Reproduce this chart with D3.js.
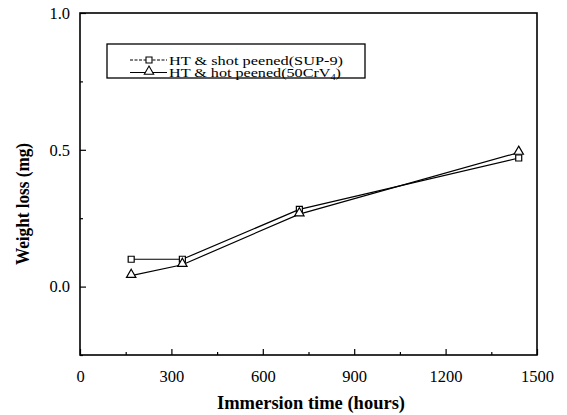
<!DOCTYPE html>
<html>
<head>
<meta charset="utf-8">
<script src="https://cdn.jsdelivr.net/npm/d3@7/dist/d3.min.js"></script>
<style>
  html, body { margin: 0; padding: 0; background: #fff; }
  svg { display: block; font-family: "Liberation Serif", "Times New Roman", serif; }
</style>
</head>
<body>
<svg id="chart" width="567" height="415"></svg>
<script>
// Immersion times (hours) and weight loss (mg) for both treatments
const hours = [168, 336, 720, 1440];
const shotPeened = [0.10, 0.10, 0.282, 0.47];
const hotPeened = [0.04, 0.08, 0.265, 0.49];
const xTicks = [0, 300, 600, 900, 1200, 1500];
const yTicks = [0.0, 0.5, 1.0];
const seriesNames = ["HT & shot peened(SUP-9)", "HT & hot peened(50CrV"];

const svg = d3.select("#chart");
const m = { left: 80, right: 537, top: 13, bottom: 355 };

const x = d3.scaleLinear().domain([0, 1500]).range([m.left, m.right]);
const y = d3.scaleLinear().domain([-0.25, 1.0]).range([m.bottom, m.top]);

// Frame
svg.append("rect")
  .attr("x", m.left).attr("y", m.top)
  .attr("width", m.right - m.left).attr("height", m.bottom - m.top)
  .attr("fill", "none").attr("stroke", "#000").attr("stroke-width", 1.6);

// Axes with inward major and minor ticks
svg.append("g").attr("transform", `translate(0,${m.bottom})`)
  .call(d3.axisBottom(x).tickValues(xTicks).tickSizeInner(-6).tickSizeOuter(0).tickPadding(15).tickFormat(d3.format("d")));
svg.append("g").attr("transform", `translate(0,${m.bottom})`)
  .call(d3.axisBottom(x).tickValues(d3.range(150, 1500, 300)).tickSizeInner(-3).tickSizeOuter(0).tickFormat(""));
svg.append("g").attr("transform", `translate(${m.left},0)`)
  .call(d3.axisLeft(y).tickValues(yTicks).tickSizeInner(-6).tickSizeOuter(0).tickPadding(10).tickFormat(d3.format(".1f")));
svg.append("g").attr("transform", `translate(${m.left},0)`)
  .call(d3.axisLeft(y).tickValues([-0.25, 0.25, 0.75]).tickSizeInner(-3).tickSizeOuter(0).tickFormat(""));

svg.selectAll(".domain").remove();
svg.selectAll(".tick line").attr("stroke", "#000").attr("stroke-width", 1.2);
svg.selectAll(".tick text").attr("font-size", 16.5).attr("fill", "#000")
  .attr("font-family", "Liberation Serif, serif");

// Axis titles
svg.append("text")
  .attr("x", 311).attr("y", 409)
  .attr("text-anchor", "middle").attr("font-size", 18).attr("font-weight", "bold")
  .attr("textLength", 188).attr("lengthAdjust", "spacingAndGlyphs")
  .text("Immersion time (hours)");
svg.append("text")
  .attr("transform", `translate(29,204) rotate(-90)`)
  .attr("text-anchor", "middle").attr("font-size", 18).attr("font-weight", "bold")
  .attr("textLength", 122).attr("lengthAdjust", "spacingAndGlyphs")
  .text("Weight loss (mg)");

// Data lines
const line = d3.line().x((d, i) => x(hours[i])).y(d => y(d));
[shotPeened, hotPeened].forEach(vals => {
  svg.append("path").datum(vals)
    .attr("d", line).attr("fill", "none").attr("stroke", "#000").attr("stroke-width", 1.2);
});

const sq = d3.symbol().type(d3.symbolSquare).size(36);
const tri = d3.symbol().type(d3.symbolTriangle).size(38);

svg.append("g").selectAll("path").data(shotPeened).join("path")
  .attr("d", sq).attr("transform", (d, i) => `translate(${x(hours[i])},${y(d)})`)
  .attr("fill", "#fff").attr("stroke", "#000").attr("stroke-width", 1.2);
svg.append("g").selectAll("path").data(hotPeened).join("path")
  .attr("d", tri).attr("transform", (d, i) => `translate(${x(hours[i])},${y(d) - 1})`)
  .attr("fill", "#fff").attr("stroke", "#000").attr("stroke-width", 1.2);

// Legend
const lg = svg.append("g");
lg.append("rect").attr("x", 107).attr("y", 44).attr("width", 258).attr("height", 34)
  .attr("fill", "#fff").attr("stroke", "#000").attr("stroke-width", 1.3);
const rows = [{ sym: sq, yy: 60, dash: "3,1.5" }, { sym: tri, yy: 72.5, dash: null }];
rows.forEach((r, i) => {
  lg.append("line").attr("x1", 130).attr("x2", 167).attr("y1", r.yy).attr("y2", r.yy)
    .attr("stroke", "#000").attr("stroke-width", 1.1).attr("stroke-dasharray", r.dash);
  lg.append("path").attr("d", r.sym).attr("transform", `translate(149,${r.yy - (i ? 1 : 0)})`)
    .attr("fill", "#fff").attr("stroke", "#000").attr("stroke-width", 1.1);
});
lg.append("text").attr("x", 169).attr("y", 64.5).attr("font-size", 12.5)
  .attr("textLength", 174).attr("lengthAdjust", "spacingAndGlyphs").text(seriesNames[0]);
const t2 = lg.append("text").attr("x", 169).attr("y", 77).attr("font-size", 12.5)
  .attr("textLength", 172).attr("lengthAdjust", "spacingAndGlyphs").text(seriesNames[1]);
t2.append("tspan").attr("font-size", 8).attr("dy", 3).text("4");
t2.append("tspan").attr("dy", -3).text(")");
</script>
</body>
</html>
